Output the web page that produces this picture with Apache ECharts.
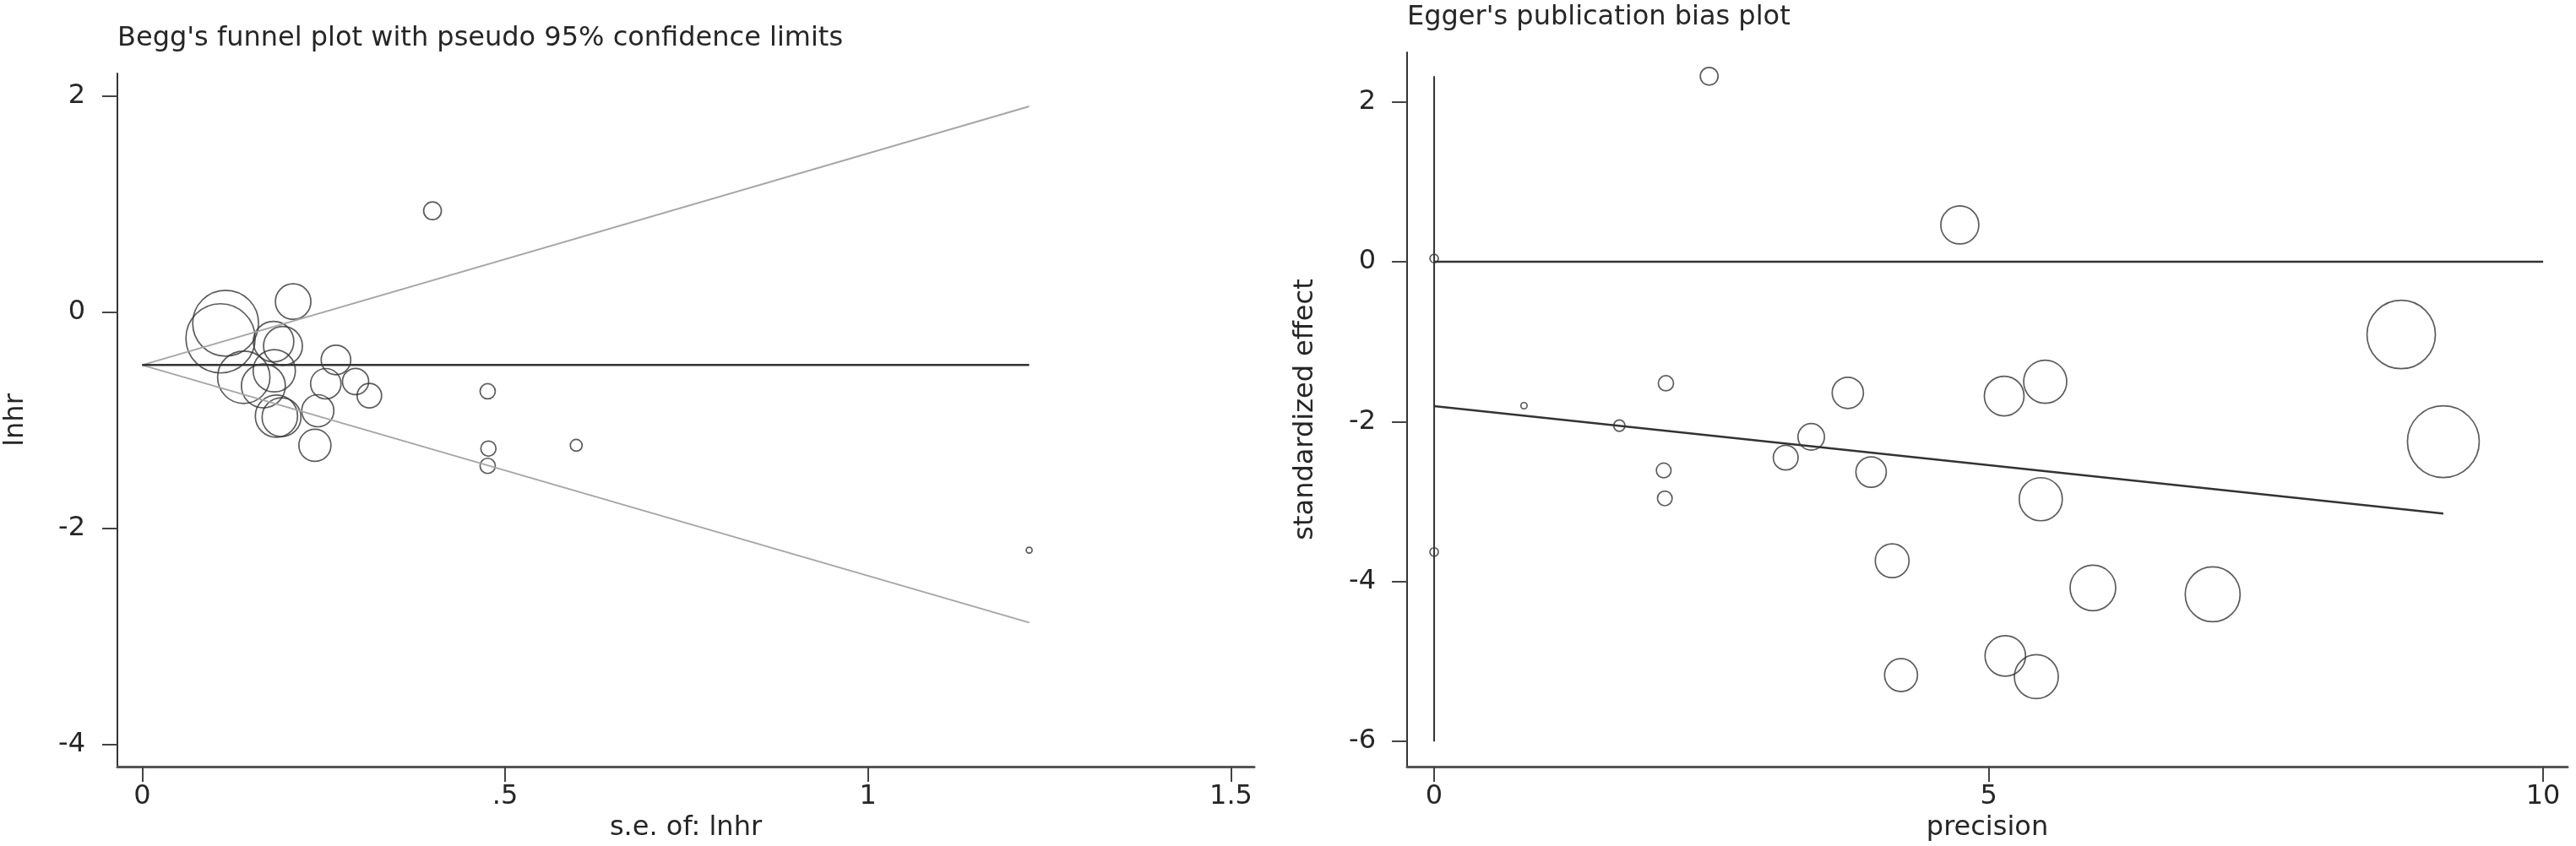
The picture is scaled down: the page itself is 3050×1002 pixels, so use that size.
<!DOCTYPE html>
<html>
<head>
<meta charset="utf-8">
<title>Begg / Egger publication bias plots</title>
<script src="https://cdn.jsdelivr.net/npm/echarts@6/dist/echarts.min.js"></script>
<style>
  html, body { margin: 0; padding: 0; background: #fff; }
  #chart { width: 3050px; height: 1002px; }
</style>
</head>
<body>
<div id="chart"></div>
<script>
// Begg's funnel plot: s.e. of lnhr, lnhr, marker weight
var beggSe   = [0.208, 0.115, 0.108, 0.181, 0.194, 0.140, 0.167, 0.182, 0.185, 0.192,
                0.267, 0.253, 0.294, 0.313, 0.242, 0.238, 0.400, 0.476, 0.477, 0.476, 0.598, 1.222];
var beggLnhr = [0.10, -0.10, -0.24, -0.27, -0.31, -0.60, -0.68, -0.54, -0.96, -0.97,
                -0.44, -0.66, -0.64, -0.77, -0.91, -1.23, 0.94, -0.73, -1.26, -1.42, -1.23, -2.20];
var beggW    = [21, 39, 41, 24, 23, 31, 26, 25, 25, 23,
                17.5, 18, 15.5, 14.5, 19, 19, 10.5, 9, 9, 9, 7, 3.5];
var beggPooled = -0.487;
var beggSeMax = 1.222;
var beggUpperEnd = 1.906;
var beggLowerEnd = -2.87;
var beggXTicks = [0, 0.5, 1, 1.5];
var beggYTicks = [-4, -2, 0, 2];

// Egger's plot: precision, standardized effect, marker weight
var eggerPrec = [0, 0, 0.81, 1.67, 2.09, 2.07, 2.08, 2.48, 3.17, 3.40, 3.73, 3.94,
                 4.13, 4.21, 4.74, 5.14, 5.15, 5.43, 5.47, 5.51, 5.94, 7.02, 8.72, 9.10];
var eggerStd  = [0.04, -3.63, -1.80, -2.05, -1.52, -2.61, -2.96, 2.32, -2.45, -2.19, -1.64, -2.63,
                 -3.74, -5.17, 0.46, -1.68, -4.93, -5.19, -2.97, -1.50, -4.08, -4.16, -0.91, -2.25];
var eggerW    = [5, 5, 3.7, 6.7, 9, 8.7, 8.7, 10.5, 14.7, 15.7, 18.5, 18,
                 20, 19.5, 22.5, 23.5, 24, 26, 25.5, 25.5, 27, 32.5, 40.5, 42.5];
var eggerFitStart = -1.806;
var eggerFitEnd = -3.15;
var eggerPrecMax = 9.10;
var eggerCiLow = -6.0;
var eggerCiHigh = 2.32;
var eggerZeroEnd = 10;
var eggerXTicks = [0, 5, 10];
var eggerYTicks = [-6, -4, -2, 0, 2];

var FONT = "'DejaVu Sans', 'Liberation Sans', sans-serif";
var TXT = '#262626';

function fmt(v) {
    var s = String(Math.round(v * 1000) / 1000);
    return s.replace(/^0\./, '.').replace(/^-0\./, '-.');
}

function axis(grid, min, max, ticks, isX, name, opts) {
    return {
        type: 'value',
        gridIndex: grid,
        min: min,
        max: max,
        name: name,
        nameLocation: 'middle',
        nameGap: opts.nameGap,
        nameTextStyle: { fontSize: 32, color: TXT, fontFamily: FONT },
        axisLine: { show: true, onZero: false, lineStyle: { color: isX ? '#555' : '#333', width: isX ? 3 : 2 } },
        axisTick: { show: true, length: 18, customValues: ticks, lineStyle: { color: '#444', width: 2 } },
        axisLabel: { customValues: ticks, formatter: fmt, margin: opts.margin, fontSize: 32, color: TXT, fontFamily: FONT },
        splitLine: { show: false }
    };
}

function points(xs, ys, ws) {
    var out = [];
    for (var i = 0; i < xs.length; i++) out.push([xs[i], ys[i], ws[i]]);
    return out;
}

function segment(xi, yi, data, color, width) {
    return {
        type: 'line', xAxisIndex: xi, yAxisIndex: yi, data: data,
        symbol: 'none', silent: true,
        lineStyle: { color: color, width: width }
    };
}

var circleStyle = { color: 'rgba(0,0,0,0)', borderColor: '#333', borderWidth: 1.7 };

var chart = echarts.init(document.getElementById('chart'));
chart.setOption({
    animation: false,
    backgroundColor: '#ffffff',
    title: [
        { text: "Begg's funnel plot with pseudo 95% confidence limits", left: 139, top: 30, padding: 0,
          textStyle: { fontSize: 32, fontWeight: 'normal', color: TXT, fontFamily: FONT } },
        { text: "Egger's publication bias plot", left: 1666, top: 5, padding: 0,
          textStyle: { fontSize: 32, fontWeight: 'normal', color: TXT, fontFamily: FONT } }
    ],
    grid: [
        { left: 139, top: 87, width: 1346, height: 821 },
        { left: 1666, top: 62, width: 1374, height: 846 }
    ],
    xAxis: [
        axis(0, -0.0341, 1.532, beggXTicks, true, 's.e. of: lnhr', { nameGap: 55, margin: 20 }),
        axis(1, -0.244, 10.22, eggerXTicks, true, 'precision', { nameGap: 52, margin: 20 })
    ],
    yAxis: [
        axis(0, -4.203, 2.211, beggYTicks, false, 'lnhr', { nameGap: 104, margin: 38 }),
        axis(1, -6.315, 2.619, eggerYTicks, false, 'standardized effect', { nameGap: 104, margin: 37 })
    ],
    series: [
        segment(0, 0, [[0, beggPooled], [beggSeMax, beggUpperEnd]], '#a6a6a6', 2),
        segment(0, 0, [[0, beggPooled], [beggSeMax, beggLowerEnd]], '#a6a6a6', 2),
        segment(0, 0, [[0, beggPooled], [beggSeMax, beggPooled]], '#333', 2.5),
        {
            type: 'scatter', xAxisIndex: 0, yAxisIndex: 0,
            data: points(beggSe, beggLnhr, beggW),
            symbol: 'circle',
            symbolSize: function (d) { return d[2] * 2; },
            itemStyle: circleStyle,
            silent: true
        },
        segment(1, 1, [[0, 0], [eggerZeroEnd, 0]], '#333', 2.5),
        segment(1, 1, [[0, eggerCiHigh], [0, eggerCiLow]], '#333', 2),
        segment(1, 1, [[0, eggerFitStart], [eggerPrecMax, eggerFitEnd]], '#333', 2.5),
        {
            type: 'scatter', xAxisIndex: 1, yAxisIndex: 1,
            data: points(eggerPrec, eggerStd, eggerW),
            symbol: 'circle',
            symbolSize: function (d) { return d[2] * 2; },
            itemStyle: circleStyle,
            silent: true
        }
    ]
});
</script>
</body>
</html>
